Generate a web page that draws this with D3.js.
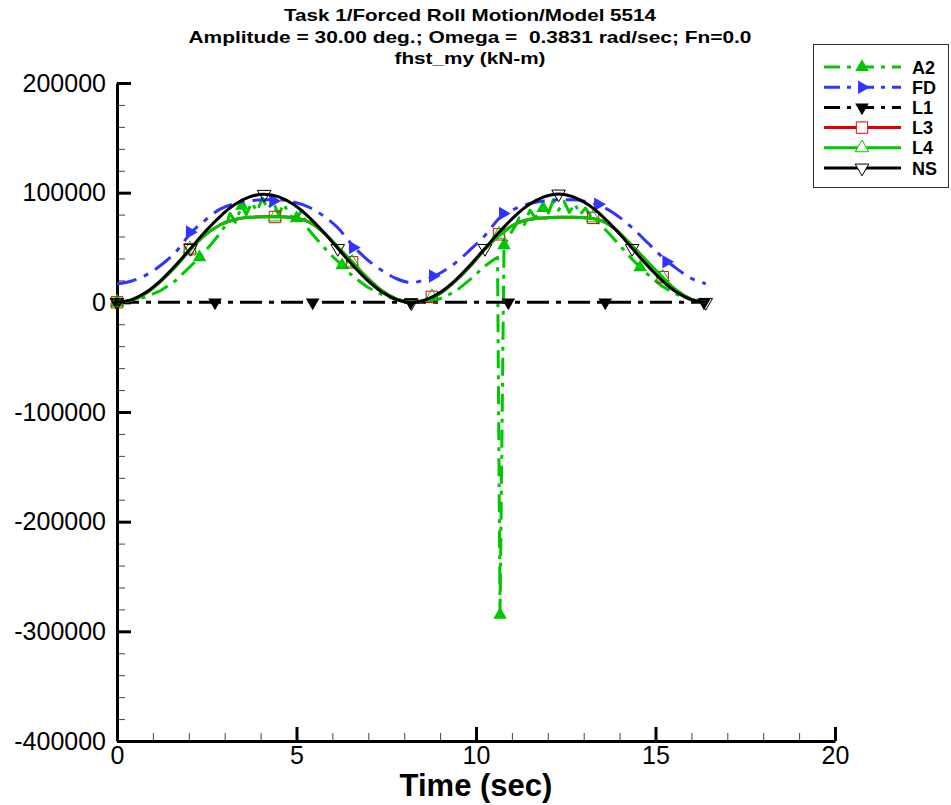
<!DOCTYPE html>
<html><head><meta charset="utf-8">
<script src="https://cdn.jsdelivr.net/npm/d3@7"></script>
<style>
html,body{margin:0;padding:0;background:#fff;}
svg{display:block;font-family:"Liberation Sans",Arial,Helvetica,sans-serif;}
</style></head><body>
<svg id="chart" width="951" height="805"></svg>
<script>
// ---------------- data ----------------
const titleLines = ["Task 1/Forced Roll Motion/Model 5514",
  "Amplitude = 30.00 deg.; Omega =  0.3831 rad/sec; Fn=0.0",
  "fhst_my (kN-m)"];
const xAxisTitle = "Time (sec)";
const xTicks = [0, 5, 10, 15, 20];
const xTickLabels = ["0", "5", "10", "15", "20"];
const xMinorTicks = [1,2,3,4,6,7,8,9,11,12,13,14,16,17,18,19];
const yTicks = [-400000, -300000, -200000, -100000, 0, 100000, 200000];
const yTickLabels = ["-400000", "-300000", "-200000", "-100000", "0", "100000", "200000"];
const yMinorTicks = [-380000,-360000,-340000,-320000,-280000,-260000,-240000,-220000,-180000,-160000,-140000,-120000,
  -80000,-60000,-40000,-20000,20000,40000,60000,80000,120000,140000,160000,180000];
const seriesNames = ["A2", "FD", "L1", "L3", "L4", "NS"];

const gridTime = [0,0.41,0.82,1.23,1.64,2.05,2.46,2.87,3.28,3.69,4.1,4.51,4.92,5.33,5.74,6.15,6.56,6.97,7.38,7.79,
  8.2,8.61,9.02,9.43,9.84,10.25,10.66,11.07,11.48,11.89,12.3,12.71,13.12,13.53,13.94,14.35,14.76,15.17,15.58,15.99,16.4];

const nsValues = [0,2400,9400,20300,34000,49200,64500,78200,89100,96100,98500,96100,89100,78200,64500,49200,34000,20300,9400,2400,
  -300,2400,9400,20300,34000,49200,64500,78200,89100,96100,98800,96100,89100,78200,64500,49200,34000,20300,9400,2400,0];

const fdValues = [17000,19500,25000,34000,46000,63000,75000,85000,90000,92500,93500,93500,91500,87000,79000,68000,52000,39000,29000,21500,
  18000,21000,27000,36000,48000,61000,77000,85000,90000,92500,93500,93500,91500,87000,79000,68000,55000,42000,31000,22000,17000];

const l4Values = [0,2000,8500,19500,33000,48500,61500,70500,75500,77500,78000,78000,77000,73500,64000,50500,36500,22500,10500,3000,
  200,2000,8500,19500,33000,48500,61500,71000,75500,77000,77500,77500,77000,74000,65000,51500,37500,23500,11000,3000,0];

const l3Values = [0,2000,8500,19500,33000,48500,61500,70500,75500,77500,78000,78000,77000,73500,64000,50500,36500,22500,10500,3000,
  200,2000,8500,19500,33000,48500,61500,71000,75500,77000,77500,77500,77000,74000,65000,51500,37500,23500,11000,3000,0];

const l1Time = [0, 16.4];
const l1Values = [0, 0];

const a2Time = [0,0.41,0.82,1.23,1.64,2.05,2.3,2.6,2.9,3.05,3.15,3.3,3.48,3.6,3.75,3.9,4.05,4.2,4.35,4.5,
  4.65,4.8,5.0,5.15,5.3,5.5,5.74,6.0,6.27,6.56,6.97,7.38,7.79,8.2,8.61,9.02,9.43,9.84,10.25,10.5,
  10.6,10.67,10.78,10.95,11.1,11.2,11.35,11.5,11.65,11.87,12.0,12.15,12.3,12.45,12.6,12.75,12.9,13.05,13.2,13.4,
  13.7,14.0,14.3,14.57,14.8,15.17,15.58,15.99,16.4];
const a2Values = [0,1500,5000,11000,20000,33000,41000,52000,64000,72000,81000,73000,88000,80000,91000,83000,95000,85000,92000,80000,
  90000,79000,76500,84000,68000,60000,51000,42000,33700,24000,14000,7000,2500,500,800,3500,10000,21000,33000,39000,
  41000,-285000,52000,62000,70000,77000,71000,84000,77000,86000,80000,93000,84000,92000,82000,90000,80000,86000,78000,73000,
  63000,52000,41000,32000,25000,15000,7500,2500,300];

// symbol positions (time, value)
const a2MarkTime = [0, 2.3, 3.48, 5.0, 6.27, 10.67, 10.78, 11.87, 14.57];
const a2MarkValue = [0, 41000, 88000, 76500, 33700, -285000, 52000, 86000, 32000];
const fdMarkTime = [2.03, 4.35, 6.57, 8.8, 10.75, 13.4, 15.3];
const fdMarkValue = [64000, 92500, 50000, 24000, 81000, 89500, 37000];
const l1MarkTime = [0, 2.73, 5.45, 8.18, 10.9, 13.6, 16.35];
const l1MarkValue = [0, 0, 0, 0, 0, 0, 0];
const l3MarkTime = [0, 2.03, 4.4, 6.55, 8.77, 10.64, 13.26, 15.2];
const l3MarkValue = [0, 48500, 77800, 36500, 5000, 62000, 77000, 23000];
const l4MarkTime = [0, 2.03, 4.4, 6.55, 8.77, 10.64, 13.26, 15.2];
const l4MarkValue = [0, 48500, 77800, 36500, 5000, 62000, 77000, 23000];
const nsMarkTime = [0, 2.05, 4.1, 6.15, 8.2, 10.25, 12.3, 14.35, 16.4];
const nsMarkValue = [0, 49200, 98500, 49200, -300, 49200, 98800, 49200, 0];

// ---------------- drawing ----------------
const svg = d3.select("#chart");
const FONT = "'Liberation Sans', Arial, Helvetica, sans-serif";
const x = d3.scaleLinear().domain([0, 20]).range([117, 835]);
const y = d3.scaleLinear().domain([-400000, 200000]).range([741, 83]);

const GREEN = "#00c800", BLUE = "#3333ff", RED = "#e00000", BLACK = "#000000";

const zip = (a, b) => a.map((d, i) => [d, b[i]]);

const styles = {
  A2: {t: a2Time, v: a2Values, mt: a2MarkTime, mv: a2MarkValue, color: GREEN, dash: "18,7,4,7", curve: d3.curveLinear, sym: d3.symbolTriangle, rot: 0, fill: GREEN},
  FD: {t: gridTime, v: fdValues, mt: fdMarkTime, mv: fdMarkValue, color: BLUE, dash: "20,8,5,8", curve: d3.curveMonotoneX, sym: d3.symbolTriangle, rot: 90, fill: BLUE},
  L1: {t: l1Time, v: l1Values, mt: l1MarkTime, mv: l1MarkValue, color: BLACK, dash: "22,7,5,7", curve: d3.curveLinear, sym: d3.symbolTriangle, rot: 180, fill: BLACK},
  L3: {t: gridTime, v: l3Values, mt: l3MarkTime, mv: l3MarkValue, color: RED, dash: null, curve: d3.curveMonotoneX, sym: d3.symbolSquare, rot: 0, fill: "none"},
  L4: {t: gridTime, v: l4Values, mt: l4MarkTime, mv: l4MarkValue, color: GREEN, dash: null, curve: d3.curveMonotoneX, sym: d3.symbolTriangle, rot: 0, fill: "none"},
  NS: {t: gridTime, v: nsValues, mt: nsMarkTime, mv: nsMarkValue, color: BLACK, dash: null, curve: d3.curveMonotoneX, sym: d3.symbolTriangle, rot: 180, fill: "none"}
};
const symSize = s => s.sym === d3.symbolSquare ? 130 : 80;

// title
svg.append("g").selectAll("text").data(titleLines).join("text")
  .attr("x", 470).attr("y", (d, i) => [21, 43, 64][i])
  .attr("text-anchor", "middle")
  .attr("font-family", FONT).attr("font-weight", "bold").attr("font-size", 17)
  .style("white-space", "pre").attr("xml:space", "preserve")
  .attr("textLength", (d, i) => [372, 563, 151][i])
  .attr("lengthAdjust", "spacingAndGlyphs")
  .text(d => d);

// axes
const yAxis = d3.axisLeft(y).tickValues(yTicks).tickSize(-14).tickSizeOuter(0).tickPadding(11)
  .tickFormat((d, i) => yTickLabels[i]);
const yMinor = d3.axisLeft(y).tickValues(yMinorTicks).tickSize(-8).tickSizeOuter(0).tickFormat("");
const xAxis = d3.axisBottom(x).tickValues(xTicks).tickSize(-14).tickSizeOuter(0).tickPadding(5)
  .tickFormat((d, i) => xTickLabels[i]);
const xMinor = d3.axisBottom(x).tickValues(xMinorTicks).tickSize(-8).tickSizeOuter(0).tickFormat("");

function styleAxis(g, major) {
  g.attr("font-family", FONT).attr("font-size", 25);
  g.selectAll("text").attr("fill", "#000");
  g.selectAll(".tick line").attr("stroke", major ? "#000" : "#444").attr("stroke-width", major ? 3 : 1);
}
const gxm = svg.append("g").attr("transform", "translate(0,741)").call(xMinor);
gxm.select(".domain").remove(); styleAxis(gxm, false);
const gym = svg.append("g").attr("transform", "translate(117,0)").call(yMinor);
gym.select(".domain").remove(); styleAxis(gym, false);
const gx = svg.append("g").attr("transform", "translate(0,741)").call(xAxis);
styleAxis(gx, true);
gx.select(".domain").attr("stroke", "#000").attr("stroke-width", 3);
const gy = svg.append("g").attr("transform", "translate(117,0)").call(yAxis);
styleAxis(gy, true);
gy.select(".domain").attr("stroke", "#000").attr("stroke-width", 3);

// x axis title
svg.append("text").attr("x", 476).attr("y", 796).attr("text-anchor", "middle")
  .attr("font-family", FONT).attr("font-weight", "bold").attr("font-size", 31)
  .text(xAxisTitle);

// series
const plot = svg.append("g");
seriesNames.forEach(name => {
  const s = styles[name];
  const line = d3.line().x(d => x(d[0])).y(d => y(d[1])).curve(s.curve);
  plot.append("path").datum(zip(s.t, s.v))
    .attr("d", line).attr("fill", "none").attr("stroke", s.color)
    .attr("stroke-width", 3).attr("stroke-dasharray", s.dash)
    .attr("stroke-linejoin", "round");
  const sym = d3.symbol().type(s.sym).size(symSize(s));
  plot.append("g").selectAll("path").data(zip(s.mt, s.mv)).join("path")
    .attr("d", sym)
    .attr("transform", d => `translate(${x(d[0])},${y(d[1])}) rotate(${s.rot})`)
    .attr("fill", s.fill)
    .attr("stroke", s.fill === "none" ? s.color : "none")
    .attr("stroke-width", 1);
});

// legend
const lg = svg.append("g");
lg.append("rect").attr("x", 813.5).attr("y", 44.5).attr("width", 135).attr("height", 143)
  .attr("fill", "#fff").attr("stroke", "#333").attr("stroke-width", 1);
seriesNames.forEach((name, i) => {
  const s = styles[name];
  const yy = 67 + i * 20.2;
  lg.append("line").attr("x1", 824).attr("x2", 901).attr("y1", yy).attr("y2", yy)
    .attr("stroke", s.color).attr("stroke-width", 3).attr("stroke-dasharray", s.dash ? "16,7,4,7" : null);
  lg.append("path").attr("d", d3.symbol().type(s.sym).size(symSize(s)))
    .attr("transform", `translate(862,${yy}) rotate(${s.rot})`)
    .attr("fill", s.fill === "none" ? "#fff" : s.fill)
    .attr("stroke", s.fill === "none" ? s.color : "none").attr("stroke-width", 1);
  lg.append("text").attr("x", 912).attr("y", yy + 6.5)
    .attr("font-family", FONT).attr("font-weight", "bold").attr("font-size", 18)
    .text(name);
});
</script>
</body></html>
